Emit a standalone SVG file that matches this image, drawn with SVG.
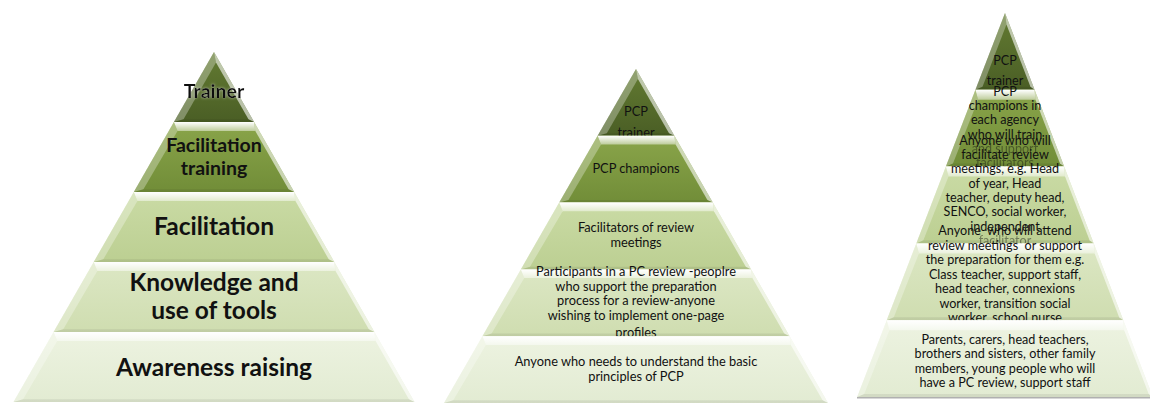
<svg xmlns="http://www.w3.org/2000/svg" width="1150" height="403" viewBox="0 0 1150 403">
  <defs>
    <style>
      text { font-family: Lato, "Noto Sans", sans-serif; fill: #111111; text-anchor: middle; }
      .b25 { font-size: 24.5px; font-weight: bold; }
      .b20 { font-size: 19.5px; font-weight: bold; }
      .t13 { font-size: 12.8px; }
      .t12 { font-size: 12.6px; }
      .ws { white-space: pre; }
      .faint { opacity: 0.45; }
      .bv-top { fill: url(#bevelTop); }
      .bv-right { fill: #ffffff; fill-opacity: 0.6; }
      .bv-left { fill: #ffffff; fill-opacity: 0.3; }
      .bv-bottom { fill: #000000; fill-opacity: 0.07; }
    </style>

    <!-- layer fills, darkest at the apex -->
    <linearGradient id="fill1" x1="0" y1="0" x2="0" y2="1">
      <stop offset="0" stop-color="#637b32"/><stop offset="1" stop-color="#4a5e25"/>
    </linearGradient>
    <linearGradient id="fill2" x1="0" y1="0" x2="0" y2="1">
      <stop offset="0" stop-color="#8aa54a"/><stop offset="1" stop-color="#718d38"/>
    </linearGradient>
    <linearGradient id="fill3" x1="0" y1="0" x2="0" y2="1">
      <stop offset="0" stop-color="#cadba5"/><stop offset="1" stop-color="#bccf92"/>
    </linearGradient>
    <linearGradient id="fill4" x1="0" y1="0" x2="0" y2="1">
      <stop offset="0" stop-color="#dce7c4"/><stop offset="1" stop-color="#cfddb0"/>
    </linearGradient>
    <linearGradient id="fill5" x1="0" y1="0" x2="0" y2="1">
      <stop offset="0" stop-color="#edf3e1"/><stop offset="1" stop-color="#e2ebd2"/>
    </linearGradient>
    <linearGradient id="bevelTop" x1="0" y1="0" x2="0" y2="1">
      <stop offset="0" stop-color="#ffffff" stop-opacity="1"/>
      <stop offset="1" stop-color="#ffffff" stop-opacity="0.45"/>
    </linearGradient>

    <filter id="glow" x="-20%" y="-40%" width="140%" height="180%">
      <feGaussianBlur in="SourceAlpha" stdDeviation="1.6" result="blur"/>
      <feFlood flood-color="#ffffff" flood-opacity="0.55"/>
      <feComposite in2="blur" operator="in" result="halo"/>
      <feMerge><feMergeNode in="halo"/><feMergeNode in="SourceGraphic"/></feMerge>
    </filter>

    <!-- bevelled pyramid layers in a unit frame: apex at 0,0, 100 units per layer, slope 1 -->
    <g id="layer1">
      <polygon points="0,0 100,100 -100,100" fill="url(#fill1)"/>
      <polygon class="bv-right" points="0,0 100,100 86,96 5,15"/>
      <polygon class="bv-left" points="0,0 -100,100 -76,96 5,15"/>
      <polygon class="bv-bottom" points="-100,100 100,100 86,96 -76,96"/>
    </g>
    <g id="layer2">
      <polygon points="-100,100 100,100 200,200 -200,200" fill="url(#fill2)"/>
      <polygon class="bv-top" points="-100,100 100,100 103,113 -91,113"/>
      <polygon class="bv-right" points="100,100 200,200 186,196 103,113"/>
      <polygon class="bv-left" points="-100,100 -200,200 -176,196 -91,113"/>
      <polygon class="bv-bottom" points="-200,200 200,200 186,196 -176,196"/>
    </g>
    <g id="layer3">
      <polygon points="-200,200 200,200 300,300 -300,300" fill="url(#fill3)"/>
      <polygon class="bv-top" points="-200,200 200,200 203,213 -191,213"/>
      <polygon class="bv-right" points="200,200 300,300 286,296 203,213"/>
      <polygon class="bv-left" points="-200,200 -300,300 -276,296 -191,213"/>
      <polygon class="bv-bottom" points="-300,300 300,300 286,296 -276,296"/>
    </g>
    <g id="layer4">
      <polygon points="-300,300 300,300 400,400 -400,400" fill="url(#fill4)"/>
      <polygon class="bv-top" points="-300,300 300,300 303,313 -291,313"/>
      <polygon class="bv-right" points="300,300 400,400 386,396 303,313"/>
      <polygon class="bv-left" points="-300,300 -400,400 -376,396 -291,313"/>
      <polygon class="bv-bottom" points="-400,400 400,400 386,396 -376,396"/>
    </g>
    <g id="layer5">
      <polygon points="-400,400 400,400 500,500 -500,500" fill="url(#fill5)"/>
      <polygon class="bv-top" points="-400,400 400,400 403,413 -391,413"/>
      <polygon class="bv-right" points="400,400 500,500 486,496 403,413"/>
      <polygon class="bv-left" points="-400,400 -500,500 -476,496 -391,413"/>
      <polygon class="bv-bottom" points="-500,500 500,500 486,496 -476,496"/>
    </g>
  </defs>

  <rect width="1150" height="403" fill="#ffffff"/>

  <!-- Pyramid 1: training levels -->
  <g id="pyramid-levels">
    <g id="levels-trainer">
      <use href="#layer1" transform="translate(214 52) scale(0.401 0.7)"/>
      <text class="b20" x="214" y="98" filter="url(#glow)">Trainer</text>
    </g>
    <g id="levels-facilitation-training">
      <use href="#layer2" transform="translate(214 52) scale(0.401 0.7)"/>
      <text class="b20" x="214" y="152">Facilitation</text>
      <text class="b20" x="214" y="175">training</text>
    </g>
    <g id="levels-facilitation">
      <use href="#layer3" transform="translate(214 52) scale(0.401 0.7)"/>
      <text class="b25" x="214" y="235">Facilitation</text>
    </g>
    <g id="levels-tools">
      <use href="#layer4" transform="translate(214 52) scale(0.401 0.7)"/>
      <text class="b25" x="214" y="291">Knowledge and</text>
      <text class="b25" x="214" y="319">use of tools</text>
    </g>
    <g id="levels-awareness">
      <use href="#layer5" transform="translate(214 52) scale(0.401 0.7)"/>
      <text class="b25" x="214" y="376">Awareness raising</text>
    </g>
  </g>

  <!-- Pyramid 2: who each level is for -->
  <g id="pyramid-audience">
    <g id="audience-trainer">
      <use href="#layer1" transform="translate(636 69) scale(0.384 0.668)"/>
      <text class="t13" x="636" y="115.5">PCP</text>
      <text class="t13" x="636" y="137">trainer</text>
    </g>
    <g id="audience-champions">
      <use href="#layer2" transform="translate(636 69) scale(0.384 0.668)"/>
      <text class="t13" x="636" y="173">PCP champions</text>
    </g>
    <g id="audience-facilitators">
      <use href="#layer3" transform="translate(636 69) scale(0.384 0.668)"/>
      <text class="t13" x="636" y="232">Facilitators of review</text>
      <text class="t13" x="636" y="246.5">meetings</text>
    </g>
    <g id="audience-participants">
      <use href="#layer4" transform="translate(636 69) scale(0.384 0.668)"/>
      <text class="t13" x="636" y="276">Participants in a PC review -peoplre</text>
      <text class="t13" x="636" y="290.5">who support the preparation</text>
      <text class="t13" x="636" y="305">process for a review-anyone</text>
      <text class="t13" x="636" y="319.5">wishing to implement one-page</text>
      <text class="t13" x="636" y="336.5">profiles</text>
    </g>
    <g id="audience-everyone">
      <use href="#layer5" transform="translate(636 69) scale(0.384 0.668)"/>
      <text class="t13" x="636" y="366">Anyone who needs to understand the basic</text>
      <text class="t13" x="636" y="380.5">principles of PCP</text>
    </g>
  </g>

  <!-- Pyramid 3: example roles at each level -->
  <g id="pyramid-roles">
    <g id="roles-trainer">
      <use href="#layer1" transform="translate(1005 13) scale(0.2957 0.768)"/>
      <text class="t12" x="1005" y="65">PCP</text>
      <text class="t12" x="1005" y="85">trainer</text>
    </g>
    <g id="roles-champions">
      <use href="#layer2" transform="translate(1005 13) scale(0.2957 0.768)"/>
      <text class="t12" x="1005" y="95.5">PCP</text>
      <text class="t12" x="1005" y="110">champions in</text>
      <text class="t12" x="1005" y="124.3">each agency</text>
      <text class="t12" x="1005" y="138.6">who will train</text>
      <text class="t12 faint" x="1005" y="152.9">and support</text>
      <text class="t12 faint" x="1005" y="167.2">facilitators</text>
    </g>
    <g id="roles-facilitators">
      <use href="#layer3" transform="translate(1005 13) scale(0.2957 0.768)"/>
      <text class="t12" x="1005" y="145">Anyone who will</text>
      <text class="t12" x="1005" y="159">facilitate review</text>
      <text class="t12" x="1005" y="173.3">meetings, e.g. Head</text>
      <text class="t12" x="1005" y="187.6">of year, Head</text>
      <text class="t12" x="1005" y="201.9">teacher, deputy head,</text>
      <text class="t12" x="1005" y="216.2">SENCO, social worker,</text>
      <text class="t12" x="1005" y="230.5">independent</text>
      <text class="t12 faint" x="1005" y="244.8">facilitator</text>
    </g>
    <g id="roles-attendees">
      <use href="#layer4" transform="translate(1005 13) scale(0.2957 0.768)"/>
      <text class="t12 ws" x="1005" y="235">Anyone  who will attend</text>
      <text class="t12 ws" x="1005" y="249.5">review meetings  or support</text>
      <text class="t12" x="1005" y="264">the preparation for them e.g.</text>
      <text class="t12" x="1005" y="278.5">Class teacher, support staff,</text>
      <text class="t12" x="1005" y="293">head teacher, connexions</text>
      <text class="t12" x="1005" y="307.5">worker, transition social</text>
      <text class="t12" x="1005" y="321.5">worker, school nurse</text>
    </g>
    <g id="roles-families">
      <use href="#layer5" transform="translate(1005 13) scale(0.2957 0.768)"/>
      <text class="t12" x="1005" y="344">Parents, carers, head teachers,</text>
      <text class="t12" x="1005" y="358.3">brothers and sisters, other family</text>
      <text class="t12" x="1005" y="372.6">members, young people who will</text>
      <text class="t12" x="1005" y="386.9">have a PC review, support staff</text>
    </g>
    <line x1="857" y1="397.8" x2="1150" y2="397.8" stroke="#9c9c9c" stroke-width="1.5" stroke-opacity="0.8"/>
  </g>
</svg>
